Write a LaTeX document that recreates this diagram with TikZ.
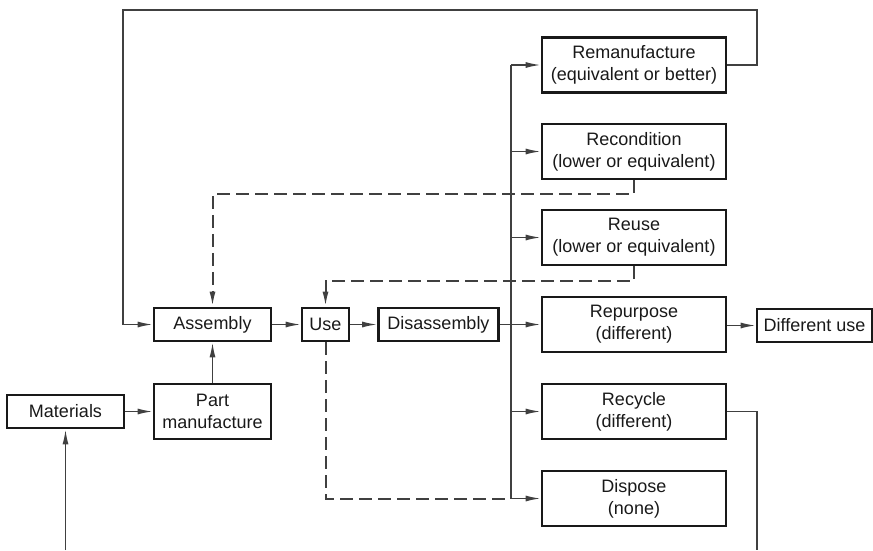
\documentclass[tikz,border=0pt]{standalone}
\usepackage{fontspec}
\setmainfont{Liberation Sans}
\usetikzlibrary{arrows.meta,positioning}

\begin{document}
\begin{tikzpicture}[
    x=1pt, y=-1pt,
    >={Latex[length=15pt,width=6pt]},
    font=\fontsize{18}{22}\selectfont,
    box/.style={draw=black!90, line width=2.6pt, minimum height=33pt, inner sep=0pt, align=center, text=black!90},
    tallbox/.style={box, minimum width=184pt, minimum height=55pt},
    flow/.style={draw=black!75, line width=1.6pt},
    back/.style={draw=black!75, line width=2pt, dash pattern=on 13pt off 6pt}
]
\useasboundingbox (0,0) rectangle (873,550);

\node[box, minimum width=117pt] (materials) at (65.5,411.5) {Materials};
\node[box, minimum width=117pt, minimum height=55pt] (partman) at (212.5,411.5) {Part\\manufacture};
\node[box, minimum width=117pt] (assembly) at (212.5,324.5) {Assembly};
\node[box, minimum width=47pt] (use) at (325.5,324.5) {Use};
\node[box, minimum width=120pt] (disassembly) at (438.5,324.5) {Disassembly};

\node[tallbox] (reman) at (634,65) {Remanufacture\\(equivalent or better)};
\node[tallbox] (recondition) at (634,151.5) {Recondition\\(lower or equivalent)};
\node[tallbox] (reuse) at (634,237.5) {Reuse\\(lower or equivalent)};
\node[tallbox] (repurpose) at (634,324.5) {Repurpose\\(different)};
\node[tallbox] (recycle) at (634,411.5) {Recycle\\(different)};
\node[tallbox] (dispose) at (634,498.5) {Dispose\\(none)};
\node[box, minimum width=115pt] (diffuse) at (814.5,325.5) {Different use};

% bus and turning points
\coordinate (bustop) at (511,65);
\coordinate (busbot) at (511,498.5);
\coordinate (loopR) at (757,10);
\coordinate (loopL) at (123,10);
\coordinate (recend) at (757,550);
\coordinate (matin) at (65.5,550);
\coordinate (rcturn) at (634,194);
\coordinate (ruturn) at (634,281);
\coordinate (usedown) at (325.5,498.5);

\draw[flow,->] (matin) -- (materials);
\draw[flow,->] (materials) -- (partman);
\draw[flow,->] (partman) -- (assembly);
\draw[flow,->] (assembly) -- (use);
\draw[flow,->] (use) -- (disassembly);
\draw[flow] (disassembly) -- (disassembly -| bustop);
\draw[flow] (bustop) -- (busbot);
\foreach \n in {reman,recondition,reuse,repurpose,recycle,dispose}
    \draw[flow,->] (\n -| bustop) -- (\n);
\draw[flow,->] (repurpose.east |- diffuse) -- (diffuse);
\draw[flow,->] (reman.east) -| (loopR) -- (loopL) |- (assembly.west);
\draw[flow] (recycle.east) -| (recend);

\draw[back,->] (recondition.south) -- (rcturn) -| (assembly.north);
\draw[back,->] (reuse.south) -- (ruturn) -| (use.north);
\draw[back] (use.south) -- (usedown) -- (usedown -| bustop);
\end{tikzpicture}
\end{document}
